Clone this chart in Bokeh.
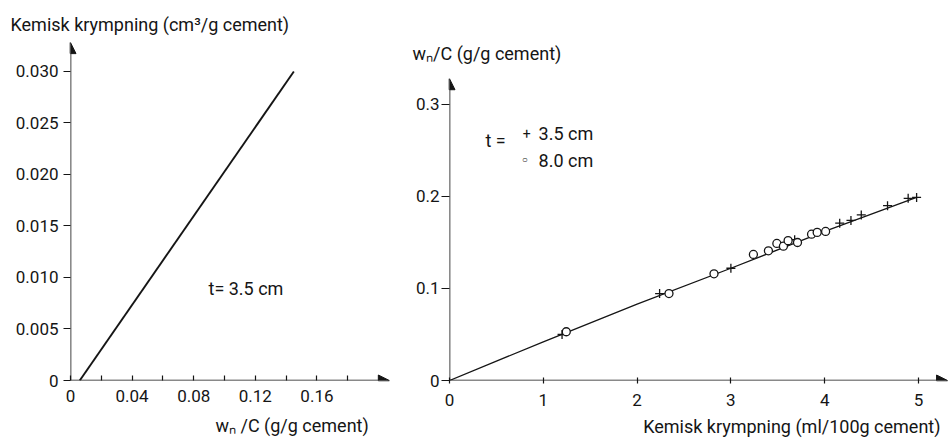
from bokeh.plotting import figure
from bokeh.models import Label, Arrow, NormalHead, FixedTicker, ColumnDataSource, Title
from bokeh.embed import file_html
from bokeh.resources import INLINE

# --- Left panel: chemical shrinkage vs. non-evaporable water (t = 3.5 cm)
left_line_x = [0.006, 0.145]
left_line_y = [0.0, 0.030]
left_xticks = [0, 0.04, 0.08, 0.12, 0.16]
left_xminor = [0.02, 0.06, 0.10, 0.14, 0.18]
left_xlabels = ["0", "0.04", "0.08", "0.12", "0.16"]
left_yticks = [0, 0.005, 0.010, 0.015, 0.020, 0.025, 0.030]
left_ylabels = ["0", "0.005", "0.010", "0.015", "0.020", "0.025", "0.030"]

# --- Right panel: w_n/C vs. chemical shrinkage
plus_x = [1.20, 2.24, 3.00, 3.68, 4.16, 4.28, 4.39, 4.67, 4.89, 4.98]
plus_y = [0.050, 0.0945, 0.122, 0.153, 0.171, 0.174, 0.180, 0.190, 0.198, 0.199]
circ_x = [1.245, 2.34, 2.82, 3.24, 3.40, 3.49, 3.56, 3.61, 3.71, 3.86, 3.92, 4.01]
circ_y = [0.053, 0.0945, 0.116, 0.137, 0.141, 0.149, 0.146, 0.152, 0.150, 0.159, 0.161, 0.162]
fit_x = [0.0, 1.0, 2.0, 3.0, 4.0, 4.98]
fit_y = [0.0, 0.042, 0.083, 0.122, 0.162, 0.199]
right_xticks = [0, 1, 2, 3, 4, 5]
right_xlabels = ["0", "1", "2", "3", "4", "5"]
right_yticks = [0, 0.1, 0.2, 0.3]
right_ylabels = ["0", "0.1", "0.2", "0.3"]

FONT = "Roboto"
INK = "#151515"
TICK_SIZE = "17px"
TEXT_SIZE = "18px"


def style_axes(p):
    p.outline_line_color = None
    p.xgrid.visible = False
    p.ygrid.visible = False
    for ax in (p.xaxis[0], p.yaxis[0]):
        ax.axis_line_color = None
        ax.major_tick_line_color = INK
        ax.minor_tick_line_color = INK
        ax.major_tick_line_width = 1.2
        ax.minor_tick_line_width = 1.2
        ax.major_label_text_font = FONT
        ax.major_label_text_font_size = TICK_SIZE
        ax.major_label_text_color = INK


def label(p, x, y, text, size=TEXT_SIZE, align="left", baseline="middle"):
    p.add_layout(Label(x=x, y=y, text=text, text_font=FONT, text_font_size=size,
                       text_color=INK, text_align=align, text_baseline=baseline))


def side_title(p, text, place, align, offset, standoff=6):
    p.add_layout(Title(text=text, align=align, offset=offset, standoff=standoff,
                       text_font=FONT, text_font_size=TEXT_SIZE, text_font_style="normal",
                       text_color=INK), place)


def axis_arrows(p, xend, yend):
    for (x1, y1) in ((xend, 0), (0, yend)):
        p.add_layout(Arrow(x_start=0, y_start=0, x_end=x1, y_end=y1,
                           line_color=INK, line_width=1.6,
                           end=NormalHead(size=11, fill_color=INK, line_color=INK)))


# ---------------- left figure ----------------
p1 = figure(frame_width=325, frame_height=342,
            min_border_left=70, min_border_right=0, min_border_top=38, min_border_bottom=63,
            x_range=(0, 0.211), y_range=(0, 0.0332),
            output_backend="svg", toolbar_location=None, background_fill_color="white")
style_axes(p1)
p1.xaxis[0].ticker = FixedTicker(ticks=left_xticks, minor_ticks=left_xminor)
p1.xaxis[0].major_label_overrides = dict(zip(left_xticks, left_xlabels))
p1.xaxis[0].major_tick_in = 5
p1.xaxis[0].major_tick_out = 0
p1.xaxis[0].minor_tick_in = 5
p1.xaxis[0].minor_tick_out = 0
p1.xaxis[0].major_label_standoff = 9
p1.yaxis[0].ticker = FixedTicker(ticks=left_yticks, minor_ticks=[])
p1.yaxis[0].major_label_overrides = dict(zip(left_yticks, left_ylabels))
p1.yaxis[0].major_tick_in = 0
p1.yaxis[0].major_tick_out = 7
p1.yaxis[0].major_label_standoff = 5

p1.line(left_line_x, left_line_y, line_color=INK, line_width=1.9)
axis_arrows(p1, 0.207, 0.0328)

label(p1, 0.0896, 0.0089, "t= 3.5 cm")
side_title(p1, "Kemisk krympning (cm³/g  cement)", "above", "left", -60, standoff=8)
side_title(p1, "wₙ /C (g/g cement)", "below", "left", 145, standoff=16)

# ---------------- right figure ----------------
p2 = figure(frame_width=499, frame_height=306,
            min_border_left=54, min_border_right=0, min_border_top=74, min_border_bottom=63,
            x_range=(0, 5.32), y_range=(0, 0.3326),
            output_backend="svg", toolbar_location=None, background_fill_color="white")
style_axes(p2)
p2.xaxis[0].ticker = FixedTicker(ticks=right_xticks, minor_ticks=[])
p2.xaxis[0].major_label_overrides = dict(zip(right_xticks, right_xlabels))
p2.xaxis[0].major_tick_in = 3
p2.xaxis[0].major_tick_out = 3
p2.xaxis[0].major_label_standoff = 10
p2.yaxis[0].ticker = FixedTicker(ticks=right_yticks, minor_ticks=[])
p2.yaxis[0].major_label_overrides = dict(zip(right_yticks, right_ylabels))
p2.yaxis[0].major_tick_in = 0
p2.yaxis[0].major_tick_out = 8
p2.yaxis[0].major_label_standoff = 2

p2.line(fit_x, fit_y, line_color=INK, line_width=1.3)
plus_src = ColumnDataSource(dict(x=plus_x, y=plus_y))
circ_src = ColumnDataSource(dict(x=circ_x, y=circ_y))
p2.scatter("x", "y", source=plus_src, marker="cross", size=9, line_color=INK, line_width=1.3)
p2.scatter("x", "y", source=circ_src, marker="circle", size=8, line_color=INK,
           line_width=1.3, fill_color="white")
axis_arrows(p2, 5.31, 0.328)

label(p2, 0.384, 0.261, "t =")
label(p2, 0.78, 0.268, "+", size="14px")
label(p2, 0.95, 0.268, "3.5 cm")
label(p2, 0.77, 0.240, "○", size="10px")
label(p2, 0.95, 0.239, "8.0 cm")
side_title(p2, "wₙ/C (g/g  cement)", "above", "left", -37, standoff=21)
side_title(p2, "Kemisk krympning (ml/100g cement)", "below", "right", 8, standoff=11)

# Two independent roots placed side by side so each keeps its own borders
page_style = """
{% block postamble %}
<style>
  body { display: flex; flex-direction: row; align-items: flex-start; margin: 0; }
</style>
{% endblock %}
"""
open("out.html", "w").write(file_html([p1, p2], INLINE, template=page_style))
